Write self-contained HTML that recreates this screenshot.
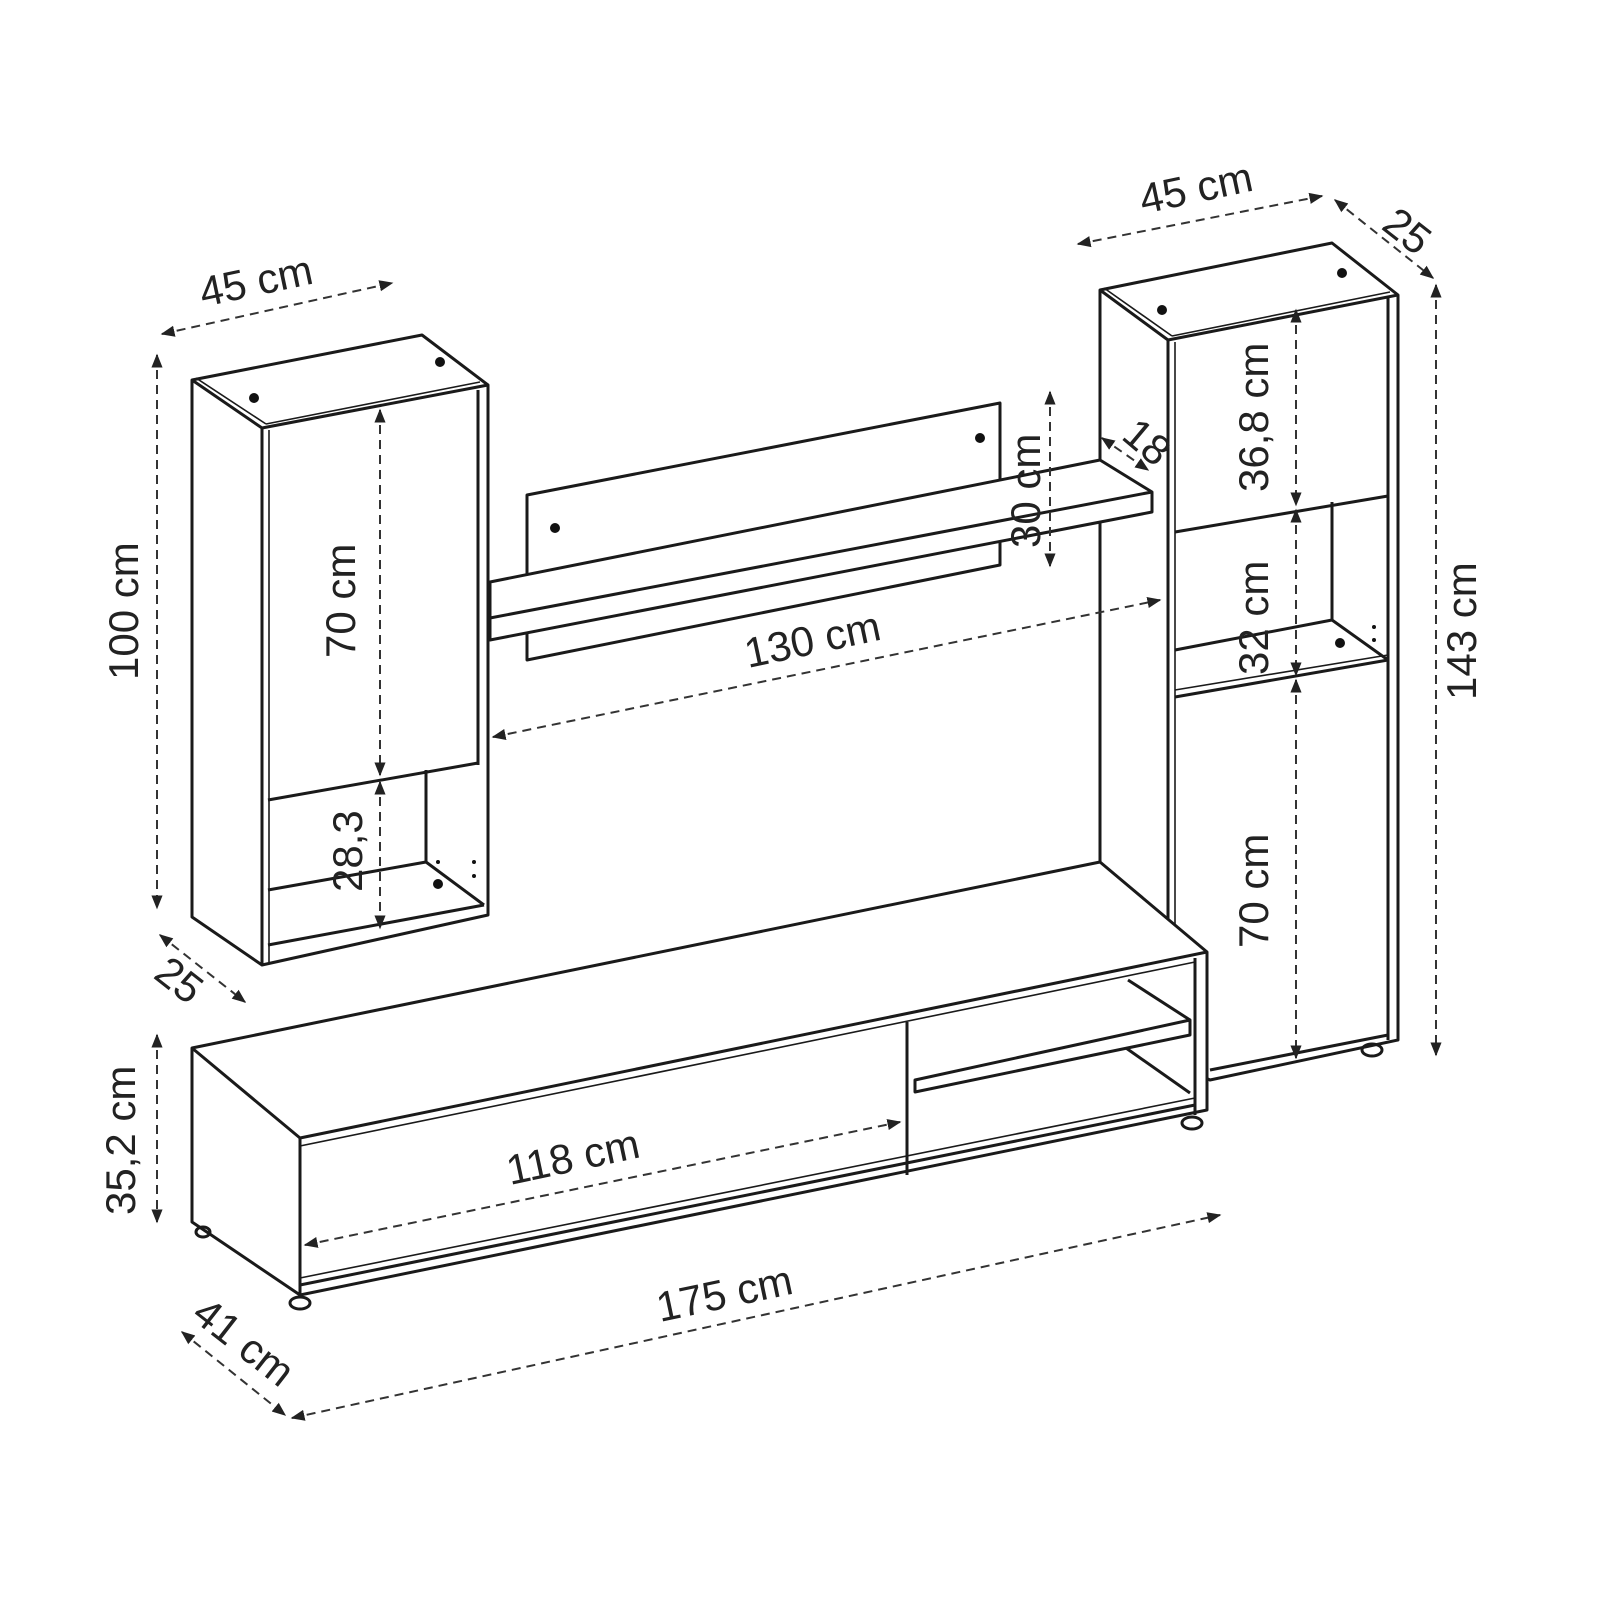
<!DOCTYPE html>
<html><head><meta charset="utf-8"><style>
html,body{margin:0;padding:0;background:#fff}
svg{display:block}
text{font-family:"Liberation Sans",sans-serif;font-size:42px;fill:#222}
.l{stroke:#1a1a1a;stroke-width:3;fill:none;stroke-linejoin:round}
.t{stroke:#1a1a1a;stroke-width:1.6;fill:none}
.f{stroke:#1a1a1a;stroke-width:3;fill:#fff;stroke-linejoin:round}
.d{stroke:#333;stroke-width:2;fill:none;stroke-dasharray:9 6}
</style></head><body>
<svg width="1600" height="1600" viewBox="0 0 1600 1600" xmlns="http://www.w3.org/2000/svg">
<defs>
<marker id="a" viewBox="0 0 10 10" refX="9" refY="5" markerWidth="7" markerHeight="7" orient="auto-start-reverse"><path d="M0,1 L10,5 L0,9 z" fill="#222"/></marker>
</defs>

<!-- Wall panel -->
<polygon class="f" points="527,495 1000,403 1000,565 527,660"/>
<circle cx="555" cy="528" r="5" fill="#111"/><circle cx="980" cy="438" r="5" fill="#111"/>

<!-- Left cabinet -->
<polygon class="f" points="192,380 422,335 488,385 488,915 262,965 192,917"/>
<line class="l" x1="192" y1="380" x2="262" y2="428"/>
<line class="l" x1="262" y1="428" x2="488" y2="385"/>
<line class="t" x1="196" y1="378" x2="266" y2="424"/>
<line class="t" x1="266" y1="424" x2="480" y2="382"/>
<line class="l" x1="262" y1="428" x2="262" y2="965"/>
<line class="t" x1="269" y1="430" x2="269" y2="962"/>
<line class="l" x1="478" y1="390" x2="478" y2="765"/>
<line class="l" x1="268" y1="800" x2="478" y2="763"/>
<line class="l" x1="426" y1="770" x2="426" y2="862"/>
<line class="l" x1="268" y1="890" x2="426" y2="862"/>
<line class="l" x1="426" y1="862" x2="484" y2="905"/>
<line class="l" x1="268" y1="945" x2="484" y2="905"/>
<circle cx="254" cy="398" r="5" fill="#111"/><circle cx="440" cy="362" r="5" fill="#111"/><circle cx="438" cy="884" r="5" fill="#111"/>
<circle cx="438" cy="862" r="2" fill="#111"/><circle cx="474" cy="862" r="2" fill="#111"/><circle cx="474" cy="876" r="2" fill="#111"/>

<!-- Right cabinet -->
<polygon class="f" points="1100,290 1332,243 1398,295 1398,1040 1210,1080 1168,1060 1100,880"/>
<line class="l" x1="1100" y1="290" x2="1168" y2="340"/>
<line class="l" x1="1168" y1="340" x2="1398" y2="295"/>
<line class="t" x1="1104" y1="288" x2="1172" y2="336"/>
<line class="t" x1="1172" y1="336" x2="1390" y2="292"/>
<line class="l" x1="1168" y1="340" x2="1168" y2="940"/>
<line class="t" x1="1175" y1="342" x2="1175" y2="940"/>
<line class="l" x1="1388" y1="298" x2="1388" y2="1040"/>
<line class="l" x1="1175" y1="532" x2="1388" y2="496"/>
<line class="l" x1="1332" y1="502" x2="1332" y2="620"/>
<line class="l" x1="1175" y1="650" x2="1332" y2="620"/>
<line class="l" x1="1332" y1="620" x2="1388" y2="660"/>
<line class="l" x1="1175" y1="697" x2="1388" y2="660"/>
<line class="t" x1="1175" y1="690" x2="1388" y2="655"/>
<line class="l" x1="1210" y1="1070" x2="1388" y2="1035"/>
<circle cx="1162" cy="310" r="5" fill="#111"/><circle cx="1342" cy="273" r="5" fill="#111"/><circle cx="1340" cy="643" r="5" fill="#111"/>
<circle cx="1374" cy="627" r="2" fill="#111"/><circle cx="1374" cy="640" r="2" fill="#111"/>
<ellipse cx="1372" cy="1050" rx="10" ry="6" class="l"/>

<!-- long shelf (in front of right cabinet side) -->
<polygon class="f" points="490,582 1100,460 1152,492 1152,512 490,640"/>
<line class="l" x1="490" y1="618" x2="1152" y2="492"/>

<!-- TV unit -->
<polygon class="f" points="192,1048 1100,862 1207,952 1207,1110 300,1295 192,1222"/>
<line class="l" x1="192" y1="1048" x2="300" y2="1138"/>
<line class="l" x1="300" y1="1138" x2="1207" y2="952"/>
<line class="t" x1="300" y1="1146" x2="1195" y2="962"/>
<line class="l" x1="300" y1="1138" x2="300" y2="1295"/>
<line class="l" x1="1195" y1="958" x2="1195" y2="1115"/>
<line class="l" x1="907" y1="1022" x2="907" y2="1175"/>
<line class="l" x1="1128" y1="980" x2="1190" y2="1020"/>
<polygon class="f" points="915,1080 1190,1020 1190,1035 915,1092"/>
<line class="l" x1="1126" y1="1048" x2="1190" y2="1093"/>
<line class="l" x1="300" y1="1285" x2="1195" y2="1105"/>
<line class="t" x1="300" y1="1278" x2="1195" y2="1098"/>
<ellipse cx="300" cy="1303" rx="10" ry="6" class="l"/><ellipse cx="1192" cy="1123" rx="10" ry="6" class="l"/><ellipse cx="203" cy="1232" rx="7" ry="5" class="l"/>

<!-- dimension lines -->
<line class="d" x1="162" y1="334" x2="392" y2="283" marker-start="url(#a)" marker-end="url(#a)"/>
<line class="d" x1="157" y1="355" x2="157" y2="908" marker-start="url(#a)" marker-end="url(#a)"/>
<line class="d" x1="160" y1="935" x2="245" y2="1002" marker-start="url(#a)" marker-end="url(#a)"/>
<line class="d" x1="380" y1="410" x2="380" y2="775" marker-start="url(#a)" marker-end="url(#a)"/>
<line class="d" x1="380" y1="782" x2="380" y2="928" marker-start="url(#a)" marker-end="url(#a)"/>
<line class="d" x1="493" y1="737" x2="1160" y2="600" marker-start="url(#a)" marker-end="url(#a)"/>
<line class="d" x1="1050" y1="392" x2="1050" y2="566" marker-start="url(#a)" marker-end="url(#a)"/>
<line class="d" x1="1102" y1="438" x2="1148" y2="470" marker-start="url(#a)" marker-end="url(#a)"/>
<line class="d" x1="1078" y1="244" x2="1322" y2="196" marker-start="url(#a)" marker-end="url(#a)"/>
<line class="d" x1="1335" y1="200" x2="1433" y2="278" marker-start="url(#a)" marker-end="url(#a)"/>
<line class="d" x1="1436" y1="285" x2="1436" y2="1055" marker-start="url(#a)" marker-end="url(#a)"/>
<line class="d" x1="1296" y1="310" x2="1296" y2="505" marker-start="url(#a)" marker-end="url(#a)"/>
<line class="d" x1="1296" y1="510" x2="1296" y2="675" marker-start="url(#a)" marker-end="url(#a)"/>
<line class="d" x1="1296" y1="680" x2="1296" y2="1058" marker-start="url(#a)" marker-end="url(#a)"/>
<line class="d" x1="157" y1="1035" x2="157" y2="1222" marker-start="url(#a)" marker-end="url(#a)"/>
<line class="d" x1="305" y1="1245" x2="900" y2="1122" marker-start="url(#a)" marker-end="url(#a)"/>
<line class="d" x1="292" y1="1418" x2="1220" y2="1215" marker-start="url(#a)" marker-end="url(#a)"/>
<line class="d" x1="182" y1="1332" x2="285" y2="1415" marker-start="url(#a)" marker-end="url(#a)"/>

<!-- labels -->
<text transform="translate(203,307) rotate(-12)">45 cm</text>
<text transform="translate(138,680) rotate(-90)">100 cm</text>
<text transform="translate(152,977) rotate(38)">25</text>
<text transform="translate(355,658) rotate(-90)">70 cm</text>
<text transform="translate(362,892) rotate(-90)">28,3</text>
<text transform="translate(748,668) rotate(-12)">130 cm</text>
<text transform="translate(1040,548) rotate(-90)">30 cm</text>
<text transform="translate(1120,438) rotate(40)">18</text>
<text transform="translate(1143,214) rotate(-12)">45 cm</text>
<text transform="translate(1380,228) rotate(38)">25</text>
<text transform="translate(1268,492) rotate(-90)">36,8 cm</text>
<text transform="translate(1268,675) rotate(-90)">32 cm</text>
<text transform="translate(1268,948) rotate(-90)">70 cm</text>
<text transform="translate(1476,700) rotate(-90)">143 cm</text>
<text transform="translate(135,1215) rotate(-90)">35,2 cm</text>
<text transform="translate(510,1185) rotate(-12)">118 cm</text>
<text transform="translate(660,1322) rotate(-12)">175 cm</text>
<text transform="translate(190,1318) rotate(38)">41 cm</text>
</svg>
</body></html>
